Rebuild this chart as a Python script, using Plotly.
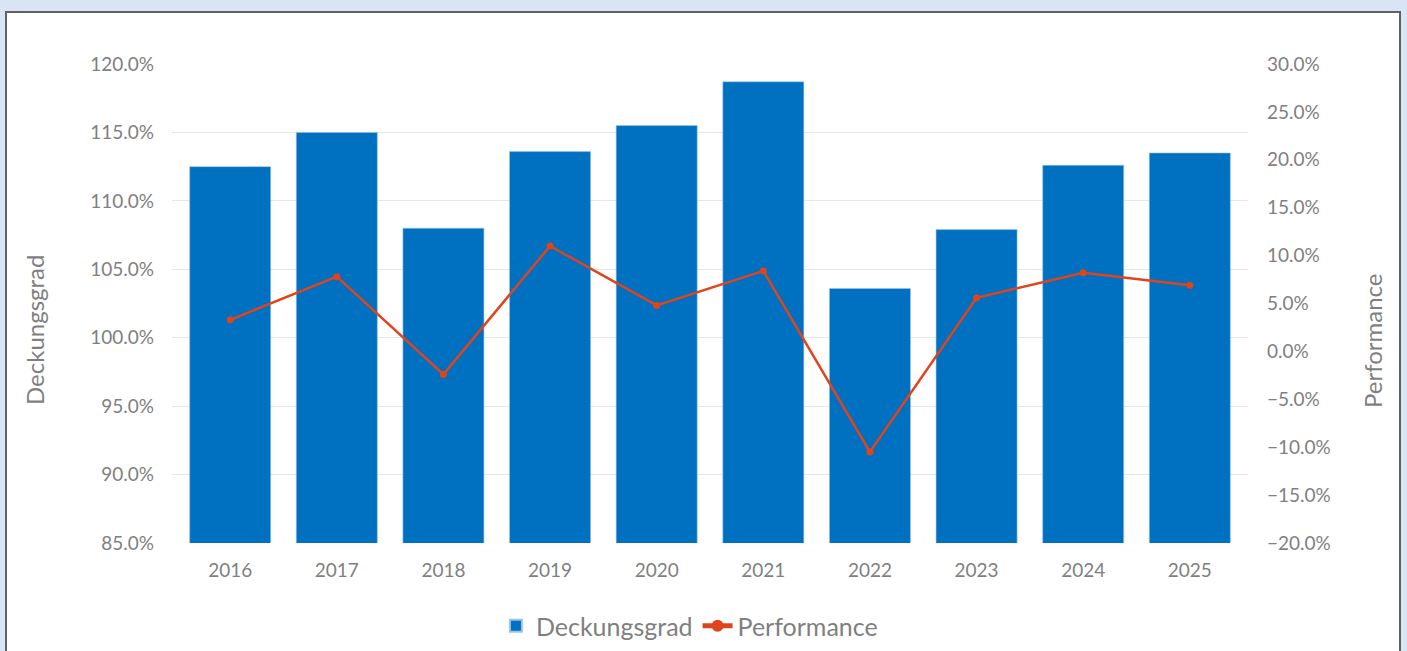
import plotly.graph_objects as go

years = ["2016", "2017", "2018", "2019", "2020", "2021", "2022", "2023", "2024", "2025"]
deckungsgrad = [112.5, 115.0, 108.0, 113.6, 115.5, 118.7, 103.6, 107.9, 112.6, 113.5]
performance = [3.3, 7.8, -2.4, 11.0, 4.8, 8.4, -10.5, 5.6, 8.2, 6.9]

W, H = 1407, 651
L, R, T, B = 172, 159, 64, 108
pw, ph = W - L - R, H - T - B

def px_x(x):
    return (x - L) / pw

def px_y(y):
    return (H - B - y) / ph

txt = "#7f7f7f"
font = "Lato, 'Open Sans', sans-serif"

fig = go.Figure()
fig.add_trace(go.Bar(
    x=years, y=deckungsgrad, name="Deckungsgrad",
    marker=dict(color="#0070c0", line=dict(color="#9dc3e6", width=0.6)),
    yaxis="y",
))
fig.add_trace(go.Scatter(
    x=years, y=performance, name="Performance", mode="lines+markers",
    line=dict(color="#e0441c", width=2.5),
    marker=dict(color="#e0441c", size=7),
    yaxis="y2",
))

fig.update_layout(
    width=W, height=H,
    margin=dict(l=L, r=R, t=T, b=B, autoexpand=False),
    paper_bgcolor="#d9e4f4",
    plot_bgcolor="rgba(0,0,0,0)",
    font=dict(family=font, color=txt, size=19),
    bargap=0.24,
    showlegend=True,
    legend=dict(orientation="h", x=0.49, xref="container", xanchor="center",
                y=1 - 626 / H, yref="container", yanchor="middle",
                font=dict(size=25, color=txt), itemsizing="constant",
                bgcolor="rgba(0,0,0,0)", itemwidth=30, tracegroupgap=0),
    xaxis=dict(showgrid=False, showline=False, zeroline=False, automargin=False,
               tickfont=dict(size=19, color=txt), ticklabelstandoff=14),
    yaxis=dict(range=[85, 120], dtick=5, tick0=85, ticksuffix="%", tickformat=".1f",
               showgrid=True, gridcolor="#e6e6e6", gridwidth=1.3, zeroline=False,
               showline=False, automargin=False,
               tickfont=dict(size=19, color=txt), ticklabelstandoff=17),
    yaxis2=dict(range=[-20, 30], dtick=5, tick0=-20, ticksuffix="%", tickformat=".1f",
                overlaying="y", side="right", showgrid=False, zeroline=False,
                showline=False, automargin=False,
                tickfont=dict(size=19, color=txt), ticklabelstandoff=18),
    annotations=[
        dict(text="Deckungsgrad", xref="paper", yref="paper", x=px_x(34), y=px_y(330),
             textangle=-90, showarrow=False, xanchor="center", yanchor="middle",
             font=dict(size=24, color=txt)),
        dict(text="Performance", xref="paper", yref="paper", x=px_x(1372), y=px_y(341),
             textangle=-90, showarrow=False, xanchor="center", yanchor="middle",
             font=dict(size=24, color=txt)),
    ],
)

fig.add_shape(type="rect", xref="paper", yref="paper", layer="below",
              x0=px_x(6), x1=px_x(1400), y0=px_y(12), y1=px_y(680),
              fillcolor="white", line=dict(color="#5f6165", width=2))

fig.write_html("out.html", config={"displayModeBar": False},
               post_script="document.body.style.margin='0';document.body.style.overflow='hidden';")
